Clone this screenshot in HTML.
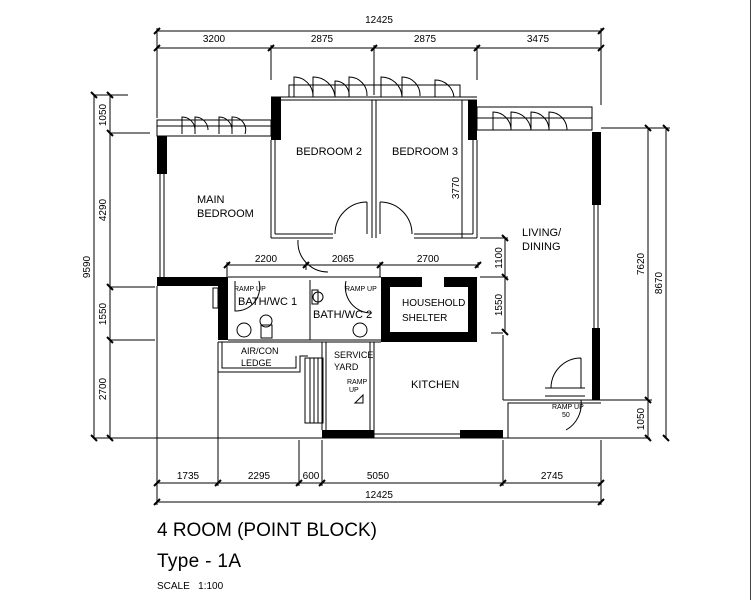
<!DOCTYPE html>
<html><head><meta charset="utf-8"><style>
html,body{margin:0;padding:0;background:#fff;}
svg{display:block;font-family:"Liberation Sans",sans-serif;}
</style></head><body>
<svg width="752" height="600" viewBox="0 0 752 600" xmlns="http://www.w3.org/2000/svg">
<rect width="752" height="600" fill="#fff"/>
<line x1="750.5" y1="0" x2="750.5" y2="600" stroke="#444" stroke-width="1"/>
<g stroke="#000" stroke-width="1" fill="none">
<line x1="157" y1="31" x2="601" y2="31"/>
<line x1="157" y1="48" x2="601" y2="48"/>
<line x1="157" y1="28" x2="157" y2="118"/>
<line x1="271" y1="45" x2="271" y2="80"/>
<line x1="374" y1="45" x2="374" y2="95"/>
<line x1="477" y1="45" x2="477" y2="80"/>
<line x1="601" y1="28" x2="601" y2="105"/>
<line x1="94" y1="95" x2="94" y2="438"/>
<line x1="110" y1="95" x2="110" y2="438"/>
<line x1="94" y1="95" x2="128" y2="95"/><line x1="110" y1="133" x2="150" y2="133"/>
<line x1="110" y1="287" x2="155" y2="287"/><line x1="110" y1="340" x2="155" y2="340"/>
<line x1="94" y1="438" x2="650" y2="438"/>
<line x1="648" y1="128" x2="648" y2="438"/>
<line x1="666" y1="128" x2="666" y2="438"/>
<line x1="601" y1="128" x2="670" y2="128"/>
<line x1="601" y1="400" x2="652" y2="400"/>
<line x1="157" y1="483" x2="601" y2="483"/>
<line x1="157" y1="502" x2="601" y2="502"/>
<line x1="157" y1="286" x2="157" y2="505"/>
<line x1="218" y1="372" x2="218" y2="486"/>
<line x1="299" y1="440" x2="299" y2="486"/>
<line x1="322" y1="440" x2="322" y2="486"/>
<line x1="503" y1="440" x2="503" y2="486"/>
<line x1="601" y1="440" x2="601" y2="505"/>
<line x1="227" y1="265" x2="478" y2="265"/>
<line x1="227" y1="262" x2="227" y2="277"/><line x1="306" y1="262" x2="306" y2="270"/>
<line x1="380" y1="262" x2="380" y2="277"/><line x1="478" y1="262" x2="478" y2="268"/>
<line x1="505" y1="238" x2="505" y2="332"/>
<line x1="480" y1="238" x2="508" y2="238"/><line x1="480" y1="277" x2="508" y2="277"/>
<line x1="462" y1="100" x2="462" y2="238"/>
</g>
<g stroke="#000" stroke-width="2">
<path d="M154 34l6-6M268 51l6-6M371 51l6-6M474 51l6-6M598 34l6-6M154 51l6-6M598 51l6-6"/>
<path d="M91 92l6 6M107 92l6 6M107 130l6 6M107 284l6 6M107 337l6 6M91 435l6 6M107 435l6 6"/>
<path d="M645 125l6 6M663 125l6 6M645 397l6 6M645 435l6 6M663 435l6 6"/>
<path d="M154 486l6-6M215 486l6-6M296 486l6-6M319 486l6-6M500 486l6-6M598 486l6-6M154 505l6-6M598 505l6-6"/>
<path d="M224 268l6-6M303 268l6-6M377 268l6-6M475 268l6-6M502 235l6 6M502 274l6 6M502 329l6 6"/>
</g>
<g fill="#000">
<rect x="157" y="136" width="10" height="38"/>
<rect x="271" y="97" width="10" height="43"/>
<rect x="468" y="100" width="9" height="40"/>
<rect x="592" y="132" width="9" height="73"/>
<rect x="592" y="328" width="8" height="72"/>
<rect x="157" y="277" width="71" height="9"/>
<rect x="218" y="277" width="10" height="63"/>
<rect x="381" y="277" width="96" height="65"/>
<rect x="322" y="430" width="52" height="8"/>
<rect x="460" y="430" width="43" height="8"/>
</g>
<rect x="390" y="287" width="78" height="45" fill="#fff"/>
<rect x="422" y="277" width="22" height="10" fill="#fff"/>
<g stroke="#000" stroke-width="1" fill="none">
<rect x="157" y="120" width="114" height="16"/>
<line x1="157" y1="126" x2="271" y2="126"/>
<line x1="160" y1="174" x2="160" y2="277"/><line x1="164" y1="174" x2="164" y2="277"/>
<path d="M182 134V117A13 13 0 0 1 195 130M195 134V117A13 13 0 0 1 208 130M219 134V117A13 13 0 0 1 232 130M232 134V117A13 13 0 0 1 245 134"/>
<rect x="289" y="85" width="171" height="12"/>
<line x1="271" y1="97" x2="477" y2="97"/>
<line x1="271" y1="100" x2="477" y2="100"/>
<path d="M294 97V77A19 19 0 0 1 313 96M313 97V77A22 22 0 0 1 335 96M335 97V81A14 14 0 0 1 349 97M349 97V77A18 18 0 0 1 367 96"/>
<path d="M381 97V77A21 21 0 0 1 402 96M402 97V77A18 18 0 0 1 420 96M435 97V80A19 19 0 0 1 454 97"/>
<line x1="372" y1="100" x2="372" y2="238"/><line x1="376" y1="100" x2="376" y2="238"/>
<line x1="271" y1="140" x2="271" y2="238"/><line x1="275" y1="140" x2="275" y2="234"/>
<line x1="473" y1="140" x2="473" y2="234"/><line x1="477" y1="140" x2="477" y2="238"/>
<line x1="271" y1="238" x2="333" y2="238"/><line x1="275" y1="234" x2="333" y2="234"/>
<line x1="414" y1="238" x2="477" y2="238"/><line x1="414" y1="234" x2="473" y2="234"/>
<path d="M367 202a32 32 0 0 0-32 32M367 202v32M380 202a32 32 0 0 1 32 32M380 202v32"/>
<path d="M298 240a30 30 0 0 0 30 32"/>
<rect x="477" y="107" width="115" height="23"/>
<line x1="477" y1="118" x2="592" y2="118"/>
<path d="M493 130V112A18 18 0 0 1 511 130M511 130V112A20 20 0 0 1 531 130M531 130V112A18 18 0 0 1 549 130M549 130V112A18 18 0 0 1 567 130"/>
<line x1="594" y1="205" x2="594" y2="328"/><line x1="598" y1="205" x2="598" y2="328"/>
<path d="M503 400v-65M503 400h98M508 438v-35h93M503 333h-12"/>
<path d="M581 358a30 30 0 0 0-30 30M581 358v30M545 388h40M545 396h40M581 400a30 30 0 0 1-15 30"/>
<line x1="228" y1="277" x2="381" y2="277"/>
<line x1="228" y1="340" x2="381" y2="340"/><line x1="218" y1="342" x2="381" y2="342"/>
<line x1="310" y1="280" x2="310" y2="340"/>
<path d="M235 281v30a24 24 0 0 0 24-30M346 281a26 26 0 0 0 26 32"/>
<circle cx="244" cy="330" r="7"/><circle cx="266" cy="321" r="6"/><circle cx="318" cy="297" r="5"/><circle cx="360" cy="330" r="7"/>
<rect x="261" y="325" width="11" height="13"/><rect x="312" y="290" width="6" height="14"/>
<rect x="213" y="288" width="5" height="20"/>
<path d="M218 342v30h82v-16h8M222 342v26h74v-12"/>
<rect x="305" y="358" width="18" height="65"/>
<line x1="310" y1="358" x2="310" y2="423"/><line x1="314" y1="358" x2="314" y2="423"/><line x1="318" y1="358" x2="318" y2="423"/>
<path d="M322 342v88M326 342v88M370 342v88M374 342v96M374 438h86M374 434h86"/>
<path d="M363 395l-8 8 8 0z"/>
</g>
<g fill="#000" font-size="11">
<g font-size="10" text-anchor="middle">
<text x="379" y="23">12425</text>
<text x="214" y="42">3200</text>
<text x="322" y="42">2875</text>
<text x="425" y="42">2875</text>
<text x="538" y="42">3475</text>
<text x="378" y="479">5050</text>
<text x="188" y="479">1735</text>
<text x="259" y="479">2295</text>
<text x="311" y="479">600</text>
<text x="552" y="479">2745</text>
<text x="379" y="498">12425</text>
<text x="266" y="262">2200</text>
<text x="343" y="262">2065</text>
<text x="428" y="262">2700</text>
<text transform="translate(90,267) rotate(-90)">9590</text>
<text transform="translate(106,115) rotate(-90)">1050</text>
<text transform="translate(106,210) rotate(-90)">4290</text>
<text transform="translate(106,314) rotate(-90)">1550</text>
<text transform="translate(106,389) rotate(-90)">2700</text>
<text transform="translate(644,264) rotate(-90)">7620</text>
<text transform="translate(662,283) rotate(-90)">8670</text>
<text transform="translate(644,419) rotate(-90)">1050</text>
<text transform="translate(502,258) rotate(-90)">1100</text>
<text transform="translate(502,305) rotate(-90)">1550</text>
<text transform="translate(459,188) rotate(-90)">3770</text>
</g>
<text x="296" y="155">BEDROOM 2</text>
<text x="392" y="155">BEDROOM 3</text>
<text x="197" y="203">MAIN</text><text x="197" y="217">BEDROOM</text>
<text x="522" y="236">LIVING/</text><text x="522" y="250">DINING</text>
<text x="238" y="305">BATH/WC 1</text>
<text x="313" y="318">BATH/WC 2</text>
<text x="402" y="306" font-size="10">HOUSEHOLD</text><text x="402" y="321" font-size="10">SHELTER</text>
<text x="241" y="354" font-size="9">AIR/CON</text><text x="241" y="366" font-size="9">LEDGE</text>
<text x="334" y="358" font-size="9">SERVICE</text><text x="334" y="370" font-size="9">YARD</text>
<text x="411" y="388">KITCHEN</text>
<text x="234" y="291" font-size="7">RAMP UP</text>
<text x="345" y="291" font-size="7">RAMP UP</text>
<text x="347" y="384" font-size="7">RAMP</text><text x="349" y="392" font-size="7">UP</text>
<text x="552" y="409" font-size="7">RAMP UP</text><text x="562" y="417" font-size="7">50</text>
<text x="157" y="536" font-size="19" textLength="220">4 ROOM (POINT BLOCK)</text>
<text x="157" y="567" font-size="19" textLength="84">Type - 1A</text>
<text x="157" y="589" font-size="10">SCALE&#160;&#160;&#160;1:100</text>
</g>
</svg>
</body></html>
